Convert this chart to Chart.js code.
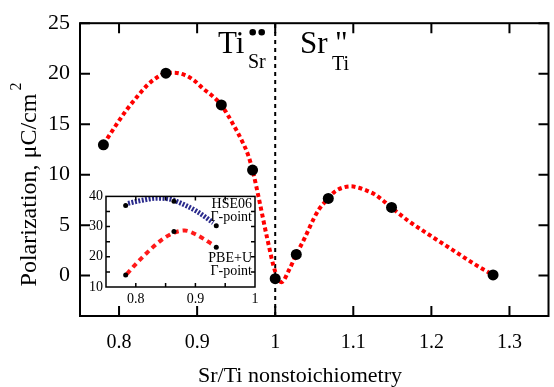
<!DOCTYPE html>
<html>
<head>
<meta charset="utf-8">
<script src="https://cdn.jsdelivr.net/npm/chart.js@4.4.1/dist/chart.umd.min.js"></script>
<style>
  body { margin: 0; background: #fff; }
  #wrap { position: relative; width: 554px; height: 387px; }
  #main { position: absolute; left: 0; top: 0; }
  #inset { position: absolute; left: 80px; top: 185px; }
</style>
</head>
<body>
<div id="wrap">
  <canvas id="main" width="554" height="387"></canvas>
  <canvas id="inset" width="185" height="125"></canvas>
</div>
<script>
// main panel: computed points
const pointX = [0.78, 0.86, 0.931, 0.971, 1.0, 1.027, 1.068, 1.149, 1.279];
const pointY = [12.95, 20.05, 16.9, 10.45, -0.3, 2.1, 7.65, 6.75, 0.07];

// main panel: fitted curve
const fitX = [0.78, 0.797, 0.81, 0.823, 0.836, 0.848, 0.86, 0.87, 0.883, 0.895, 0.908, 0.921, 0.931, 0.946, 0.958, 0.965, 0.971, 0.98, 0.99, 1.0,
              1.008, 1.018, 1.027, 1.037, 1.05, 1.056, 1.068, 1.076, 1.086, 1.097, 1.107, 1.116, 1.127, 1.137, 1.149, 1.17, 1.19, 1.21, 1.233, 1.255, 1.279];
const fitY = [13.0, 15.0, 16.45, 17.7, 18.85, 19.6, 20.05, 20.1, 19.9, 19.4, 18.5, 17.7, 16.9, 15.0, 13.25, 12.0, 10.45, 7.3, 3.6, 0.4,
              -0.65, 0.6, 2.1, 3.6, 5.75, 6.55, 7.66, 8.3, 8.7, 8.84, 8.7, 8.46, 8.07, 7.5, 6.73, 5.45, 4.4, 3.4, 2.25, 1.15, 0.07];

const xTicks = [0.8, 0.9, 1.0, 1.1, 1.2, 1.3];
const yTicks = [0, 5, 10, 15, 20, 25];

// inset panel
const insetX = [0.783, 0.864, 0.935];
const hseY = [37.0, 38.4, 30.3];
const pbeY = [14.0, 28.4, 23.2];
const hseFitX = [0.787, 0.81, 0.835, 0.855, 0.869, 0.902, 0.93];
const hseFitY = [37.7, 38.7, 39.4, 39.2, 38.3, 35.1, 31.3];
const pbeFitX = [0.785, 0.80, 0.818, 0.846, 0.866, 0.882, 0.902, 0.93];
const pbeFitY = [14.3, 17.6, 21.2, 26.0, 28.1, 28.7, 27.3, 23.9];
const insetXLabels = [0.8, 0.9, 1.0];
const insetXMarks = [0.8, 0.85, 0.9, 0.95];
const insetYLabels = [10, 20, 30, 40];
const insetYMarks = [15, 20, 25, 30, 35];

const serif = 'Liberation Serif';
const xy = (xs, ys) => xs.map((v, i) => ({ x: v, y: ys[i] }));

// box round the plot area, ticks pointing inwards
const frameTicks = {
  id: 'frameTicks',
  afterDatasetsDraw(chart, args, opts) {
    const { ctx, chartArea: a, scales: { x, y } } = chart;
    ctx.save();
    ctx.strokeStyle = '#000';
    ctx.lineWidth = opts.width;
    ctx.beginPath();
    opts.xMarks.forEach(v => {
      const px = x.getPixelForValue(v);
      ctx.moveTo(px, a.bottom); ctx.lineTo(px, a.bottom - opts.len);
      ctx.moveTo(px, a.top); ctx.lineTo(px, a.top + opts.len);
    });
    opts.yMarks.forEach(v => {
      const py = y.getPixelForValue(v);
      ctx.moveTo(a.left, py); ctx.lineTo(a.left + opts.len, py);
      ctx.moveTo(a.right, py); ctx.lineTo(a.right - opts.len, py);
    });
    ctx.stroke();
    ctx.strokeRect(a.left, a.top, a.right - a.left, a.bottom - a.top);
    ctx.restore();
  }
};

// axis titles and defect labels
const mainText = {
  id: 'mainText',
  afterDraw(chart) {
    const ctx = chart.ctx;
    ctx.save();
    ctx.fillStyle = '#000';
    ctx.textBaseline = 'alphabetic';

    ctx.font = `22px "${serif}"`;
    ctx.textAlign = 'center';
    ctx.fillText('Sr/Ti nonstoichiometry', 300, 382);

    ctx.save();
    ctx.translate(36, 184);
    ctx.rotate(-Math.PI / 2);
    ctx.font = `24px "${serif}"`;
    const ytitle = 'Polarization, \u03bcC/cm';
    const w = ctx.measureText(ytitle).width;
    ctx.textAlign = 'left';
    ctx.fillText(ytitle, -w / 2 - 6, 0);
    ctx.font = `16px "${serif}"`;
    ctx.fillText('2', w / 2 - 3, -15);
    ctx.restore();

    ctx.textAlign = 'left';
    ctx.font = `31px "${serif}"`;
    ctx.fillText('Ti', 218, 53);
    ctx.fillText('Sr', 300, 53);
    ctx.fillText('"', 335, 53);
    ctx.font = `20px "${serif}"`;
    ctx.fillText('Sr', 248, 68);
    ctx.fillText('Ti', 332, 70);
    ctx.beginPath();
    ctx.arc(252.7, 32.3, 3.3, 0, Math.PI * 2);
    ctx.arc(261.7, 32.3, 3.3, 0, Math.PI * 2);
    ctx.fill();
    ctx.restore();
  }
};

const insetText = {
  id: 'insetText',
  afterDraw(chart) {
    const ctx = chart.ctx;
    ctx.save();
    ctx.fillStyle = '#000';
    ctx.font = `14px "${serif}"`;
    ctx.textAlign = 'right';
    ctx.fillText('HSE06', 172, 23);
    ctx.fillText('\u0393-point', 172, 36);
    ctx.fillText('PBE+U', 172, 77);
    ctx.fillText('\u0393-point', 172, 90);
    ctx.restore();
  }
};

const fmt = v => String(+v.toFixed(2));
const noGrid = { display: false, drawTicks: false };

new Chart(document.getElementById('main'), {
  type: 'scatter',
  data: {
    datasets: [
      { data: xy(pointX, pointY), pointRadius: 5.5, pointBackgroundColor: '#000', pointBorderWidth: 0, showLine: false },
      { data: xy(fitX, fitY), showLine: true, borderColor: '#ff0000', borderWidth: 4, borderDash: [4, 3],
        cubicInterpolationMode: 'monotone', pointRadius: 0 },
      { data: [{ x: 1, y: -4 }, { x: 1, y: 25 }], showLine: true, borderColor: '#000', borderWidth: 2,
        borderDash: [4, 4], pointRadius: 0 }
    ]
  },
  options: {
    responsive: false,
    animation: false,
    layout: { padding: { top: 14, right: 3, left: 0, bottom: 0 } },
    plugins: {
      legend: { display: false },
      tooltip: { enabled: false },
      frameTicks: { width: 2, len: 10, xMarks: xTicks, yMarks: yTicks }
    },
    scales: {
      x: {
        type: 'linear', min: 0.75, max: 1.35,
        grid: noGrid, border: { display: false },
        afterBuildTicks: s => { s.ticks = xTicks.map(v => ({ value: v })); },
        afterFit: s => { s.height = 71; },
        ticks: { padding: 15, color: '#000', autoSkip: false, maxRotation: 0,
                 font: { family: serif, size: 20 }, callback: fmt }
      },
      y: {
        min: -4, max: 25,
        grid: noGrid, border: { display: false },
        afterBuildTicks: s => { s.ticks = yTicks.map(v => ({ value: v })); },
        afterFit: s => { s.width = 80; },
        ticks: { padding: 10, color: '#000', autoSkip: false,
                 font: { family: serif, size: 22 }, callback: fmt }
      }
    }
  },
  plugins: [frameTicks, mainText]
});

new Chart(document.getElementById('inset'), {
  type: 'scatter',
  data: {
    datasets: [
      { data: xy(insetX, hseY), pointRadius: 2.5, pointBackgroundColor: '#000', pointBorderWidth: 0 },
      { data: xy(insetX, pbeY), pointRadius: 2.5, pointBackgroundColor: '#000', pointBorderWidth: 0 },
      { data: xy(hseFitX, hseFitY), showLine: true, borderColor: '#2a2a8c', borderWidth: 5, borderDash: [2, 1.5],
        cubicInterpolationMode: 'monotone', pointRadius: 0 },
      { data: xy(pbeFitX, pbeFitY), showLine: true, borderColor: '#ff1a1a', borderWidth: 4, borderDash: [5, 4],
        cubicInterpolationMode: 'monotone', pointRadius: 0 }
    ]
  },
  options: {
    responsive: false,
    animation: false,
    layout: { padding: { top: 8, right: 10, left: 0, bottom: 0 } },
    plugins: {
      legend: { display: false },
      tooltip: { enabled: false },
      frameTicks: { width: 1.5, len: 4, xMarks: insetXMarks, yMarks: insetYMarks }
    },
    scales: {
      x: {
        type: 'linear', min: 0.75, max: 1.0,
        grid: noGrid, border: { display: false },
        afterBuildTicks: s => { s.ticks = insetXLabels.map(v => ({ value: v })); },
        afterFit: s => { s.height = 23; },
        ticks: { padding: 4, color: '#000', autoSkip: false, maxRotation: 0,
                 font: { family: serif, size: 14 }, callback: fmt }
      },
      y: {
        min: 10, max: 40,
        grid: noGrid, border: { display: false },
        afterBuildTicks: s => { s.ticks = insetYLabels.map(v => ({ value: v })); },
        afterFit: s => { s.width = 26; },
        ticks: { padding: 3, color: '#000', autoSkip: false,
                 font: { family: serif, size: 14 }, callback: fmt }
      }
    }
  },
  plugins: [frameTicks, insetText]
});
</script>
</body>
</html>
